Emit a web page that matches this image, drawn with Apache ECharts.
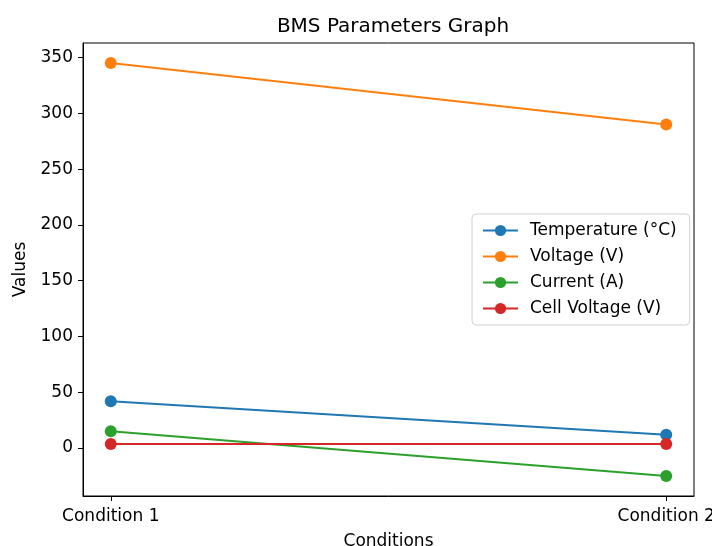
<!DOCTYPE html>
<html>
<head>
<meta charset="utf-8">
<script src="https://cdn.jsdelivr.net/npm/echarts@6/dist/echarts.min.js"></script>
<style>html,body{margin:0;padding:0;background:#fff}#c{width:712px;height:546px}</style>
</head>
<body>
<div id="c"></div>
<script>
var categories = ['Condition 1', 'Condition 2'];
var seriesNames = ['Temperature (°C)', 'Voltage (V)', 'Current (A)', 'Cell Voltage (V)'];
var temperature = [42, 12];
var voltage = [345, 290];
var current = [15, -25];
var cellVoltage = [3.7, 3.7];
var yTicks = [0, 50, 100, 150, 200, 250, 300, 350];
var colors = ['#1f77b4', '#ff7f0e', '#2ca02c', '#d62728'];

var values = [temperature, voltage, current, cellVoltage];
var font = 'DejaVu Sans';
var chart = echarts.init(document.getElementById('c'), null, {renderer: 'canvas'});
var series = values.map(function (arr, k) {
  return {
    name: seriesNames[k],
    type: 'line',
    data: arr.map(function (v, i) { return [i, v]; }),
    symbol: 'circle',
    symbolSize: 12,
    color: colors[k],
    lineStyle: {width: 2, color: colors[k]},
    itemStyle: {color: colors[k]},
    animation: false,
    z: 2 + k
  };
});
chart.setOption({
  animation: false,
  title: {
    text: 'BMS Parameters Graph', left: 388, top: 12, textAlign: 'center',
    textStyle: {fontFamily: font, fontSize: 20, fontWeight: 'normal', color: '#000'}
  },
  legend: {
    orient: 'vertical', left: 472, top: 214,
    data: seriesNames,
    itemWidth: 35, itemHeight: 14, itemGap: 9,
    padding: [8, 13, 8, 10],
    borderColor: '#d0d0d0', borderWidth: 1, borderRadius: 4,
    backgroundColor: 'rgba(255,255,255,0.8)',
    textStyle: {fontFamily: font, fontSize: 17, color: '#000', padding: [0, 0, 0, 7]}
  },
  grid: {left: 83, right: 18, top: 43, bottom: 50, outerBoundsMode: 'none', containLabel: false,
    show: true, borderColor: '#000', borderWidth: 1, backgroundColor: 'transparent'},
  xAxis: {
    type: 'value', min: -0.05, max: 1.05,
    name: 'Conditions', nameLocation: 'middle', nameGap: 37,
    nameTextStyle: {fontFamily: font, fontSize: 17, color: '#000'},
    axisLine: {show: true, onZero: false, lineStyle: {color: '#000', width: 1}},
    splitLine: {show: false},
    axisTick: {show: true, length: 5, lineStyle: {color: '#000'}, customValues: [0, 1]},
    axisLabel: {
      customValues: [0, 1], fontFamily: font, fontSize: 17, color: '#000', margin: 12,
      formatter: function (v) { return categories[Math.round(v)]; }
    }
  },
  yAxis: {
    type: 'value', min: -43, max: 363,
    name: 'Values', nameLocation: 'middle', nameGap: 54,
    nameTextStyle: {fontFamily: font, fontSize: 17, color: '#000'},
    axisLine: {show: true, onZero: false, lineStyle: {color: '#000', width: 1}},
    splitLine: {show: false},
    axisTick: {show: true, length: 5, lineStyle: {color: '#000'}, customValues: yTicks},
    axisLabel: {customValues: yTicks, fontFamily: font, fontSize: 17, color: '#000', margin: 10}
  },
  series: series
});
</script>
</body>
</html>
